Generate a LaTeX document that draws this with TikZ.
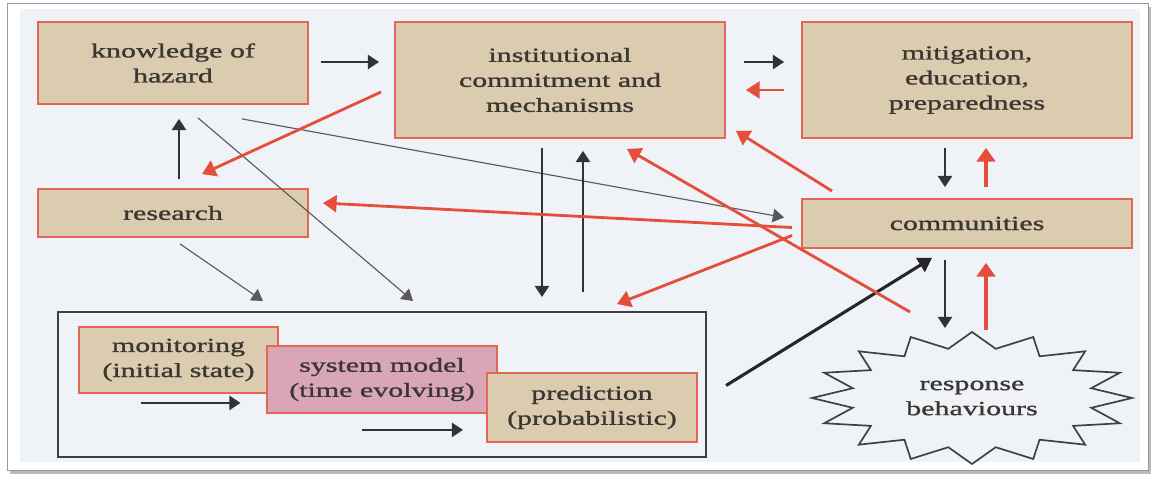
\documentclass[tikz,border=0pt]{standalone}
\usepackage{fontspec}
\setmainfont{Liberation Serif}[FakeStretch=1.5, FakeBold=1.2]
\usepackage{tikz}
\usetikzlibrary{arrows.meta, calc, shadows}
\usepackage{xcolor}
\definecolor{boxtan}{RGB}{219,203,175}
\definecolor{boxred}{RGB}{226,104,86}
\definecolor{boxpink}{RGB}{216,166,182}
\definecolor{linkred}{RGB}{228,78,58}
\definecolor{inktext}{RGB}{58,54,50}
\definecolor{paper}{RGB}{239,242,246}
\tikzset{
    panel/.style={draw=boxred, fill=boxtan, line width=1.3pt, align=center, text=inktext,
        font=\fontsize{14.2}{17.8}\selectfont, inner sep=0pt},
    pinkpanel/.style={panel, fill=boxpink},
    groupbox/.style={draw=black!75, line width=1.4pt},
    burst/.style={draw=black!75, line width=1.2pt, fill=paper, line join=miter},
    burstlabel/.style={align=center, text=inktext, font=\fontsize{14.2}{17.8}\selectfont},
    blkarrow/.style={draw=black!80, line width=1.1pt, -{Triangle[length=2.8mm,width=3.6mm]}},
    thinarrow/.style={draw=black!65, line width=0.8pt, -{Triangle[length=2.8mm,width=3.4mm]}},
    blkthick/.style={draw=black!85, line width=2.2pt, -{Triangle[length=3.4mm,width=4mm]}},
    redarrow/.style={draw=linkred, line width=2pt, -{Triangle[length=3.4mm,width=4.2mm]}},
    redthick/.style={draw=linkred, line width=3pt, -{Triangle[length=3.4mm,width=4.6mm]}}
}

\begin{document}
\begin{tikzpicture}[x=0.025cm, y=-0.025cm]
    \useasboundingbox (0,0) rectangle (1160,485);
    % page frame
    \fill[white] (0,0) rectangle (1160,485);
    \draw[black!40, fill=white, drop shadow={opacity=0.55, shadow xshift=2pt, shadow yshift=-3pt}]
        (7,3) rectangle (1148,470);
    \fill[paper] (20,9) rectangle (1140,462);

    % boxes
    \node[panel, minimum width=6.75cm, minimum height=2.05cm] (hazard) at (173,63) {knowledge of\\hazard};
    \node[panel, minimum width=8.25cm, minimum height=2.9cm] (inst) at (560,80) {institutional\\commitment and\\mechanisms};
    \node[panel, minimum width=8.25cm, minimum height=2.9cm] (mitig) at (967,80) {mitigation,\\education,\\preparedness};
    \node[panel, minimum width=6.75cm, minimum height=1.2cm] (research) at (173,213) {research};
    \node[panel, minimum width=8.25cm, minimum height=1.225cm] (comm) at (967,223.5) {communities};

    % forecasting group
    \node[groupbox, minimum width=16.2cm, minimum height=3.625cm] (forecast) at (382,384.5) {};
    \node[panel, minimum width=4.975cm, minimum height=1.65cm] (monit) at (178.5,360) {monitoring\\(initial state)};
    \node[pinkpanel, minimum width=5.75cm, minimum height=1.675cm] (sysmodel) at (382,379.5) {system model\\(time evolving)};
    \node[panel, minimum width=5.25cm, minimum height=1.725cm] (predict) at (592,407.5) {prediction\\(probabilistic)};
    \draw[blkarrow] ($(monit.south)+(-38,9)$) -- ($(monit.south)+(62,9)$);
    \draw[blkarrow] ($(sysmodel.south)+(-20,16)$) -- ($(sysmodel.south)+(81,16)$);

    % response starburst
    \coordinate (resp0) at (972,398);
    \draw[burst] ($(resp0)+(0:160 and 66)$)
        \foreach \k [evaluate=\k as \r using {1-0.24*mod(\k,2)}] in {1,...,31} {
            -- ($(resp0)+({\k*11.25}:{160*\r} and {66*\r})$) } -- cycle;
    \node[burstlabel] (resp) at (resp0) {response\\behaviours};

    % black links
    \draw[blkarrow] ($(hazard.east)+(12,-1)$) -- ($(inst.west)+(-15,-18)$);
    \draw[blkarrow] ($(inst.east)+(18,-18)$) -- ($(mitig.west)+(-17,-18)$);
    \draw[blkarrow] ($(research.north)+(6,-9)$) -- ($(hazard.south)+(6,14)$);
    \draw[thinarrow] ($(hazard.south)+(69,14)$) -- ($(comm.west)+(-17,-6)$);
    \draw[thinarrow] ($(hazard.south)+(25,13)$) -- ($(forecast.north)+(31,-10)$);
    \draw[thinarrow] ($(research.south)+(7,6)$) -- ($(forecast.north)+(-119,-10)$);
    \draw[blkarrow] ($(inst.south)+(-18,9)$) -- ($(forecast.north)+(160,-14)$);
    \draw[blkarrow] ($(forecast.north)+(201,-19)$) -- ($(inst.south)+(23,12)$);
    \draw[blkarrow] ($(mitig.south)+(-22,9)$) -- ($(comm.north)+(-22,-11)$);
    \draw[blkarrow] ($(comm.south)+(-22,11)$) -- ($(resp.center)+(-27,-70)$);
    \draw[blkthick] ($(forecast.east)+(19,1)$) -- ($(comm.south)+(-35,9)$);

    % red links
    \draw[redarrow] ($(mitig.west)+(-17,10)$) -- ($(inst.east)+(20,10)$);
    \draw[redarrow] ($(inst.west)+(-13,12)$) -- ($(research.north)+(29,-14)$);
    \draw[redarrow] ($(comm.west)+(-9,4)$) -- ($(research.east)+(14,-10)$);
    \draw[redarrow] ($(comm.west)+(-9,12)$) -- ($(forecast.north)+(235,-7)$);
    \draw[redarrow] ($(resp.center)+(-62,-86)$) -- ($(inst.south)+(67,10)$);
    \draw[redarrow] ($(comm.north west)+(31,-7)$) -- ($(inst.south east)+(10,-8)$);
    \draw[redthick] ($(comm.north)+(19,-11)$) -- ($(mitig.south)+(19,9)$);
    \draw[redthick] ($(resp.center)+(14,-68)$) -- ($(comm.south)+(19,14)$);
\end{tikzpicture}
\end{document}
